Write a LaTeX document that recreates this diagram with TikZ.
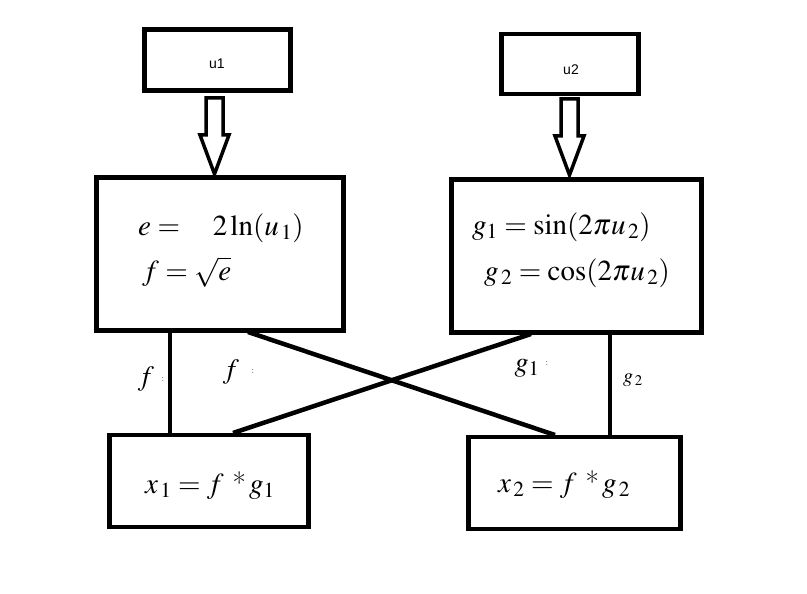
\documentclass[tikz,border=0pt]{standalone}
\usepackage{mathptmx}
\usepackage{fontspec}
\newfontfamily\sansf{Liberation Sans}
\usetikzlibrary{calc}
\tikzset{
  box/.style={draw, line width=4.5pt, inner sep=0pt},
  wire/.style={line width=4.5pt},
  hollow/.style={draw, line width=3.5pt, line join=miter, fill=white},
  mtext/.style={inner sep=0pt, font=\fontsize{29}{33}\selectfont},
  lab/.style={inner sep=0pt, font=\fontsize{28}{32}\selectfont},
  tinylab/.style={inner sep=0pt, font=\fontsize{9}{10}\selectfont}
}
\begin{document}
\begin{tikzpicture}[x=1pt,y=-1pt]
\useasboundingbox (0,0) rectangle (807,594);
% boxes
\node[box, minimum width=146pt, minimum height=61pt] (u1) at (217.5,60) {};
\node[inner sep=0pt, font=\sansf\fontsize{14}{16}\selectfont] (u1t) at (217,64) {u1};
\node[box, minimum width=137pt, minimum height=60pt] (u2) at (570,64) {};
\node[inner sep=0pt, font=\sansf\fontsize{14}{16}\selectfont] (u2t) at (571,70) {u2};
\node[box, minimum width=247pt, minimum height=153pt] (e) at (220,254) {};
\node[box, minimum width=250pt, minimum height=153pt] (g) at (576.5,256) {};
\node[box, minimum width=199pt, minimum height=92pt] (x1) at (209,481) {};
\node[box, minimum width=212pt, minimum height=92pt] (x2) at (574.5,483) {};
% formulas
\node[mtext, anchor=base west] (fe) at (138,235) {$e=\ \ \ 2\ln(u_{\,1})$};
\node[mtext, anchor=base west] (ff) at (142,280) {$f=\sqrt{e}$};
\node[mtext, anchor=base west] (fg1) at (472,234) {$g_1=\sin(2\pi u_{\,2})$};
\node[mtext, anchor=base west] (fg2) at (484,280) {$g_{\,2}=\cos(2\pi u_{\,2})$};
\node[mtext, anchor=base west] (fx1) at (145,493) {$x_{\,1}=f\mbox{ *}\,g_1$};
\node[mtext, anchor=base west] (fx2) at (498,492) {$x_{\,2}=f\mbox{ *}\,g_{\,2}$};
% hollow arrows
\draw[hollow] (206,98) -- (223,98) -- (223,135) -- (229,135) -- (214.5,174) -- (200,135) -- (206,135) -- cycle;
\draw[hollow] (561,99) -- (578,99) -- (578,136) -- (584,136) -- (569.5,175) -- (555,136) -- (561,136) -- cycle;
% connectors
\coordinate (a1) at (170,332);
\coordinate (a2) at (170,433);
\coordinate (b1) at (248,332);
\coordinate (b2) at (555,435);
\coordinate (c1) at (531,334);
\coordinate (c2) at (233,433);
\coordinate (d1) at (610,334);
\coordinate (d2) at (610,435);
\draw[wire] (a1) -- (a2);
\draw[wire] (b1) -- (b2);
\draw[wire] (c1) -- (c2);
\draw[wire] (d1) -- (d2);
% labels
\node[lab] (lf1) at (146,379) {$f$};
\node[tinylab] (lf1c) at (163,380) {:};
\node[lab] (lf2) at (231,372) {$f$};
\node[tinylab] (lf2c) at (253,372) {:};
\node[lab] (lg1) at (527,368) {$g_1$};
\node[tinylab] (lg1c) at (547,364) {:};
\node[inner sep=0pt, font=\fontsize{20}{22}\selectfont] (lg2) at (633,380) {$g_{\,2}$};
\end{tikzpicture}
\end{document}
